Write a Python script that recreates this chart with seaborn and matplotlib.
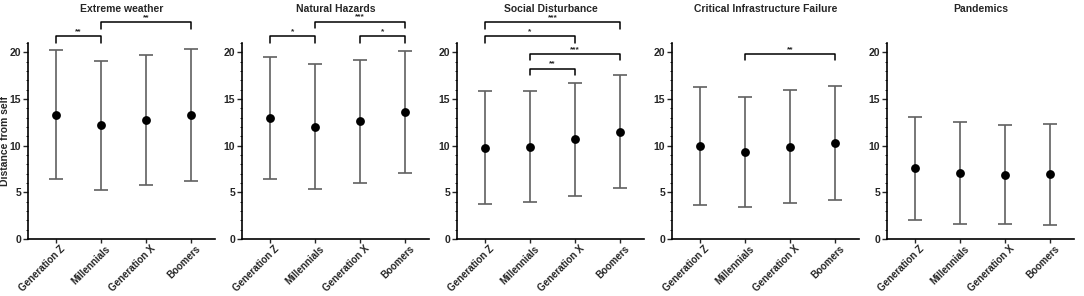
import numpy as np
import pandas as pd
import matplotlib
matplotlib.use("Agg")
import matplotlib.pyplot as plt
import matplotlib.transforms as mtransforms
import seaborn as sns

sns.set_theme(style="ticks")
plt.rcParams['font.family'] = ['Liberation Sans', 'DejaVu Sans']
plt.rcParams['font.weight'] = 'bold'

categories = ["Generation Z", "Millennials", "Generation X", "Boomers"]
titles = ["Extreme weather", "Natural Hazards", "Social Disturbance",
          "Critical Infrastructure Failure", "Pandemics"]

means_extreme = [13.33, 12.2, 12.74, 13.31]
sd_extreme = [6.93, 6.9, 7.0, 7.05]
means_natural = [12.96, 12.02, 12.6, 13.6]
sd_natural = [6.5, 6.68, 6.62, 6.55]
means_social = [9.8, 9.9, 10.7, 11.5]
sd_social = [6.05, 5.94, 6.04, 6.03]
means_infra = [9.95, 9.33, 9.89, 10.29]
sd_infra = [6.3, 5.9, 6.03, 6.14]
means_pand = [7.56, 7.05, 6.89, 6.93]
sd_pand = [5.53, 5.45, 5.29, 5.4]

# significance brackets: (from index, to index, bar height, label)
sig_extreme = [(0, 1, 21.7, "**"), (1, 3, 23.2, "**")]
sig_natural = [(0, 1, 21.7, "*"), (1, 3, 23.3, "***"), (2, 3, 21.7, "*")]
sig_social = [(0, 3, 23.2, "***"), (0, 2, 21.7, "*"), (1, 3, 19.8, "***"), (1, 2, 18.2, "**")]
sig_infra = [(1, 3, 19.8, "**")]
sig_pand = []

panels = [
    (means_extreme, sd_extreme, sig_extreme),
    (means_natural, sd_natural, sig_natural),
    (means_social, sd_social, sig_social),
    (means_infra, sd_infra, sig_infra),
    (means_pand, sd_pand, sig_pand),
]

fig = plt.figure(figsize=(10.84, 2.96), dpi=100)
W, H = 1084, 296
ax_w = 187 / W
ax_b = (296 - 239) / H
ax_h = (239 - 43) / H
lefts = [28, 242, 457, 672, 887]

for i, (means, sds, sigs) in enumerate(panels):
    ax = fig.add_axes([lefts[i] / W, ax_b, ax_w, ax_h])
    df = pd.DataFrame({"group": categories, "value": means})
    ax.errorbar(np.arange(len(categories)), means, yerr=sds, fmt='none',
                ecolor='#606060', elinewidth=1.2, capsize=4.7, capthick=1.2, zorder=2)
    sns.pointplot(data=df, x="group", y="value", order=categories, ax=ax,
                  color='black', linestyle='none', errorbar=None, markers='o',
                  markersize=4.3, zorder=3)
    ax.set_xlim(-0.62, 3.53)
    ax.set_ylim(0, 21)
    ax.set_yticks([0, 5, 10, 15, 20])
    ax.set_yticks(np.arange(0, 22, 1), minor=True)
    ax.tick_params(axis='y', which='major', length=3.5, width=1.0, labelsize=7.5, pad=1.5)
    ax.tick_params(axis='y', which='minor', length=1.8, width=0.7)
    ax.tick_params(axis='x', which='major', length=3, width=1.0, labelsize=7, pad=1)
    ax.set_xticks(range(len(categories)))
    ax.set_xticklabels(categories, rotation=45, ha='right', rotation_mode='anchor',
                       fontweight='bold')
    offset = mtransforms.ScaledTranslation(4 / 100, 1 / 100, fig.dpi_scale_trans)
    for lab in ax.get_xticklabels():
        lab.set_transform(lab.get_transform() + offset)
    for lab in ax.get_yticklabels():
        lab.set_fontweight('bold')
    for s in ['top', 'right']:
        ax.spines[s].set_visible(False)
    for s in ['left', 'bottom']:
        ax.spines[s].set_linewidth(1.2)
        ax.spines[s].set_color('black')
    ax.set_xlabel("")
    if i == 0:
        ax.set_ylabel("Distance from self", fontsize=7.5, fontweight='bold')
        ax.yaxis.set_label_coords(-0.098, 0.5)
    else:
        ax.set_ylabel("")
    ax.set_title(titles[i], fontsize=7.5, fontweight='bold', y=1.16, pad=0)
    for (a, b, h, lab) in sigs:
        d = 0.65
        ax.plot([a, a, b, b], [h - d, h, h, h - d], color='black', lw=1.1,
                clip_on=False, zorder=4)
        ax.text((a + b) / 2, h + 0.15, lab, ha='center', va='bottom', fontsize=6,
                fontweight='bold', clip_on=False)

fig.savefig("out.png", dpi=100)
